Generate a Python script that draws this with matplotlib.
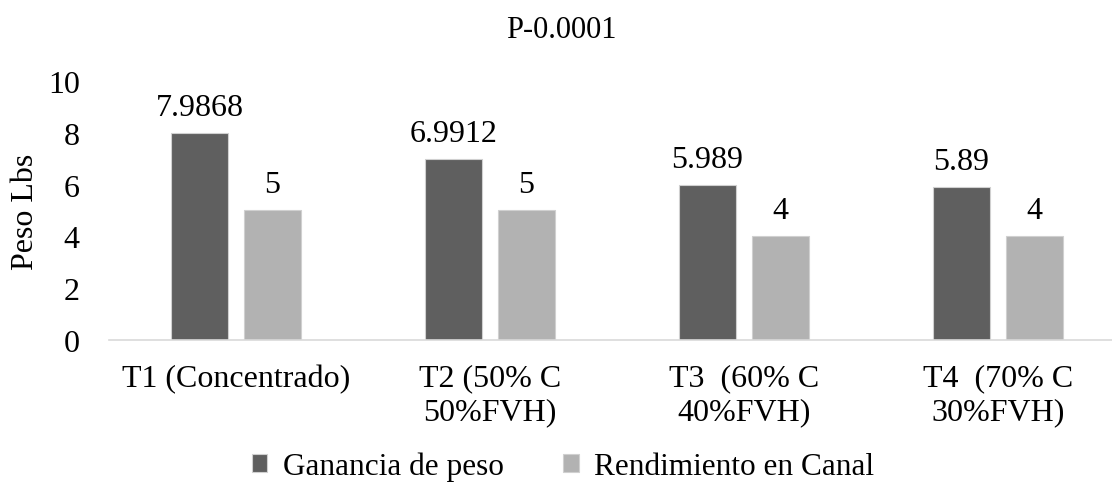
import matplotlib
matplotlib.use("Agg")
import matplotlib.pyplot as plt
import numpy as np

categories = ["T1 (Concentrado)", "T2 (50% C\n50%FVH)", "T3  (60% C\n40%FVH)", "T4  (70% C\n30%FVH)"]
ganancia = [7.9868, 6.9912, 5.989, 5.89]
rendimiento = [5, 5, 4, 4]
ganancia_labels = ["7.9868", "6.9912", "5.989", "5.89"]
rendimiento_labels = ["5", "5", "4", "4"]
yticks = [0, 2, 4, 6, 8, 10]

plt.rcParams['font.family'] = ['Liberation Serif', 'DejaVu Serif']
FS = 23

fig = plt.figure(figsize=(11.12, 4.89), dpi=100)
ax = fig.add_axes([0.098, 0.3027, 0.9137, 0.5297])

x = np.arange(len(categories))
w = 0.224
off = 0.144
dark = "#5f5f5f"
light = "#b2b2b2"
b1 = ax.bar(x - off, ganancia, w, color=dark, edgecolor="#d0d0d0", linewidth=0.8, label="Ganancia de peso")
b2 = ax.bar(x + off, rendimiento, w, color=light, edgecolor="#d0d0d0", linewidth=0.8, label="Rendimiento en Canal")

for rect, lab in zip(b1, ganancia_labels):
    ax.annotate(lab, (rect.get_x() + rect.get_width() / 2, rect.get_height()),
                xytext=(0, 8), textcoords="offset points", ha="center", va="bottom", fontsize=FS)
for rect, lab in zip(b2, rendimiento_labels):
    ax.annotate(lab, (rect.get_x() + rect.get_width() / 2, rect.get_height()),
                xytext=(0, 8), textcoords="offset points", ha="center", va="bottom", fontsize=FS)

ax.set_xlim(-0.5, len(categories) - 0.5)
ax.set_ylim(0, 10)
ax.set_yticks(yticks)
ax.set_yticklabels([str(t) for t in yticks], fontsize=FS)
ax.set_xticks(x)
ax.set_xticklabels(categories, fontsize=FS, linespacing=1.22)
ax.tick_params(axis="both", length=0)
ax.tick_params(axis="x", pad=17)
ax.tick_params(axis="y", pad=21)
for s in ["top", "right", "left"]:
    ax.spines[s].set_visible(False)
ax.spines["bottom"].set_color("#d9d9d9")
ax.spines["bottom"].set_linewidth(1.2)
ax.set_ylabel("Peso Lbs", fontsize=FS, labelpad=6)

fig.text(561 / 1112, 1 - 30 / 489, "P-0.0001", ha="center", va="center", fontsize=22)

fig.legend(handles=[b1, b2], loc="center", bbox_to_anchor=(563 / 1112, 1 - 467 / 489), ncol=2, frameon=False,
           fontsize=22.5, handlelength=0.5, handleheight=0.5, columnspacing=1.9, handletextpad=0.5)

fig.savefig("out.png", dpi=100)
